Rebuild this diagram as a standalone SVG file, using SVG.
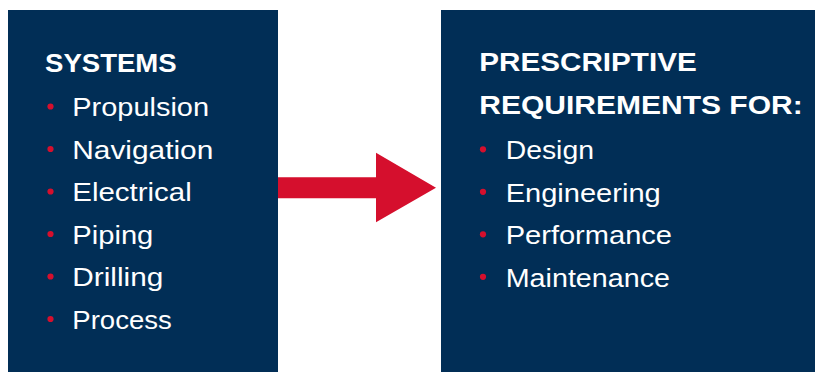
<svg xmlns="http://www.w3.org/2000/svg" width="815" height="372" viewBox="0 0 815 372">
<style>
.box{fill:#012e56}
.h{font-family:"Liberation Sans",Arial,sans-serif;font-weight:bold;font-size:25.5px;fill:#fff}
.t{font-family:"Liberation Sans",Arial,sans-serif;font-size:25.5px;fill:#fff}
.b{fill:#d50f2d}
.arrow{fill:#d50f2d}
</style>
<rect width="815" height="372" fill="#fff"/>
<g id="systems">
<rect class="box" x="8" y="10" width="270" height="362"/>
<text class="h" x="45" y="71.7" textLength="131.7" lengthAdjust="spacingAndGlyphs">SYSTEMS</text>
<circle class="b" cx="50.5" cy="106.5" r="3.1"/>
<text class="t" x="72.3" y="116" textLength="136.7" lengthAdjust="spacingAndGlyphs">Propulsion</text>
<circle class="b" cx="50.5" cy="149" r="3.1"/>
<text class="t" x="72.3" y="158.6" textLength="141" lengthAdjust="spacingAndGlyphs">Navigation</text>
<circle class="b" cx="50.5" cy="191.5" r="3.1"/>
<text class="t" x="72.3" y="201.2" textLength="119.4" lengthAdjust="spacingAndGlyphs">Electrical</text>
<circle class="b" cx="50.5" cy="234" r="3.1"/>
<text class="t" x="72.3" y="243.8" textLength="81" lengthAdjust="spacingAndGlyphs">Piping</text>
<circle class="b" cx="50.5" cy="276.5" r="3.1"/>
<text class="t" x="72.3" y="286.4" textLength="91" lengthAdjust="spacingAndGlyphs">Drilling</text>
<circle class="b" cx="50.5" cy="319" r="3.1"/>
<text class="t" x="72.3" y="329" textLength="99.5" lengthAdjust="spacingAndGlyphs">Process</text>
</g>
<g id="requirements">
<rect class="box" x="441" y="10" width="374" height="362"/>
<text class="h" x="479.3" y="71.2" textLength="217.4" lengthAdjust="spacingAndGlyphs">PRESCRIPTIVE</text>
<text class="h" x="479.3" y="114" textLength="323.4" lengthAdjust="spacingAndGlyphs">REQUIREMENTS FOR:</text>
<circle class="b" cx="483" cy="149.3" r="3.1"/>
<text class="t" x="505.7" y="159" textLength="88.3" lengthAdjust="spacingAndGlyphs">Design</text>
<circle class="b" cx="483" cy="191.8" r="3.1"/>
<text class="t" x="505.7" y="201.5" textLength="155" lengthAdjust="spacingAndGlyphs">Engineering</text>
<circle class="b" cx="483" cy="234.3" r="3.1"/>
<text class="t" x="505.7" y="244" textLength="166.3" lengthAdjust="spacingAndGlyphs">Performance</text>
<circle class="b" cx="483" cy="276.8" r="3.1"/>
<text class="t" x="505.7" y="286.6" textLength="164.3" lengthAdjust="spacingAndGlyphs">Maintenance</text>
</g>
<g id="connectors">
<polygon class="arrow" points="278,177.3 376,177.3 376,152.7 436,187.7 376,222.3 376,198.3 278,198.3"/>
</g>
</svg>
